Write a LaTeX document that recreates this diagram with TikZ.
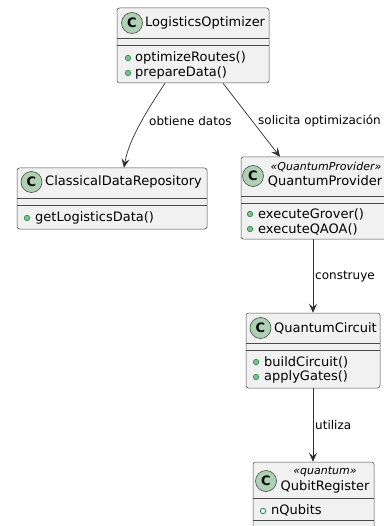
\documentclass[tikz,border=0pt]{standalone}
\usepackage{fontspec}
\setmainfont{DejaVu Sans}
\usetikzlibrary{arrows.meta,calc}
\definecolor{boxfill}{HTML}{F1F1F1}
\definecolor{boxline}{HTML}{4A4A4A}
\definecolor{connline}{HTML}{303030}
\definecolor{circfill}{HTML}{ADD1B2}
\definecolor{dotfill}{HTML}{84BE84}
\definecolor{dotline}{HTML}{038048}
\tikzset{
  classbox/.style={draw=boxline, fill=boxfill, line width=0.5pt, rounded corners=2.5pt, inner sep=0pt, minimum width=#1},
  sepline/.style={draw=boxline, line width=0.5pt},
  cmark/.style={circle, draw=boxline, fill=circfill, line width=0.6pt, minimum size=21pt, inner sep=0pt, font=\fontsize{13}{13}\selectfont\bfseries},
  cname/.style={anchor=west, inner sep=0pt, font=\fontsize{13}{15}\selectfont},
  stereo/.style={inner sep=0pt, font=\fontsize{11}{13}\selectfont\itshape},
  member/.style={anchor=west, inner sep=0pt, font=\fontsize{13}{15}\selectfont},
  mdot/.style={circle, draw=dotline, fill=dotfill, line width=0.5pt, minimum size=5.5pt, inner sep=0pt},
  fdot/.style={circle, draw=dotline, fill=none, line width=0.7pt, minimum size=5.5pt, inner sep=0pt},
  conn/.style={draw=connline, line width=0.7pt, -{Stealth[length=9pt,width=8pt,inset=3.5pt]}},
  clabel/.style={anchor=west, inner sep=0pt, font=\fontsize{12}{14}\selectfont}
}
\begin{document}
\begin{tikzpicture}[x=1pt,y=-1pt]
\useasboundingbox (0,0) rectangle (383,526);
\fill[white] (0,0) rectangle (383,526);

% LogisticsOptimizer
\node[classbox=152pt, minimum height=75pt] (lo) at (193,45.5) {};
\draw[sepline] (117,38) -- (269,38);
\draw[sepline] (117,45) -- (269,45);
\node[cmark] (loc) at (132,23) {C};
\node[cname] (lon) at (145,23) {LogisticsOptimizer};
\node[mdot] (lod1) at (128,58) {};
\node[member] (lom1) at (135,58) {optimizeRoutes()};
\node[mdot] (lod2) at (128,73) {};
\node[member] (lom2) at (135,73) {prepareData()};

% ClassicalDataRepository
\node[classbox=190pt, minimum height=61pt] (cdr) at (112,198.5) {};
\draw[sepline] (17,198) -- (207,198);
\draw[sepline] (17,205) -- (207,205);
\node[cmark] (cdrc) at (31.5,182) {C};
\node[cname] (cdrn) at (45,182) {ClassicalDataRepository};
\node[mdot] (cdrd1) at (27,218) {};
\node[member] (cdrm1) at (35,218) {getLogisticsData()};

% QuantumProvider
\node[classbox=156pt, minimum height=82pt] (qp) at (319,198) {};
\draw[sepline] (241,196) -- (397,196);
\draw[sepline] (241,203) -- (397,203);
\node[cmark] (qpc) at (253,176) {C};
\node[stereo] (qps) at (326,167) {«QuantumProvider»};
\node[cname, anchor=center] (qpn) at (325,181) {QuantumProvider};
\node[mdot] (qpd1) at (250,214) {};
\node[member] (qpm1) at (258,214) {executeGrover()};
\node[mdot] (qpd2) at (250,229) {};
\node[member] (qpm2) at (258,229) {executeQAOA()};

% QuantumCircuit
\node[classbox=134pt, minimum height=75pt] (qc) at (313,350.5) {};
\draw[sepline] (246,343) -- (380,343);
\draw[sepline] (246,350) -- (380,350);
\node[cmark] (qcc) at (260.5,328) {C};
\node[cname] (qcn) at (274,328) {QuantumCircuit};
\node[mdot] (qcd1) at (256,362) {};
\node[member] (qcm1) at (264,362) {buildCircuit()};
\node[mdot] (qcd2) at (256,377) {};
\node[member] (qcm2) at (264,377) {applyGates()};

% QubitRegister
\node[classbox=121pt, minimum height=80pt] (qr) at (313.5,502) {};
\draw[sepline] (253,498) -- (374,498);
\draw[sepline] (253,520) -- (374,520);
\node[cmark] (qrc) at (266,481) {C};
\node[stereo] (qrs) at (325,472) {«quantum»};
\node[cname, anchor=center] (qrn) at (325,487) {QubitRegister};
\node[fdot] (qrd1) at (263,511) {};
\node[member] (qrm1) at (271,510) {nQubits};

% connectors
\draw[conn] ([xshift=-28pt]lo.south) .. controls (150,106) and (129,138) .. ([xshift=12pt]cdr.north);
\draw[conn] ([xshift=30pt]lo.south) -- ([xshift=-39pt]qp.north);
\draw[conn] (qp.south -| qc.north) -- (qc.north);
\draw[conn] (qc.south) -- (qr.north -| qc.south);

% labels
\node[clabel] (l1) at (149,121) {obtiene datos};
\node[clabel] (l2) at (258,121) {solicita optimización};
\node[clabel] (l3) at (315,277) {construye};
\node[clabel] (l4) at (315,425) {utiliza};
\end{tikzpicture}
\end{document}
